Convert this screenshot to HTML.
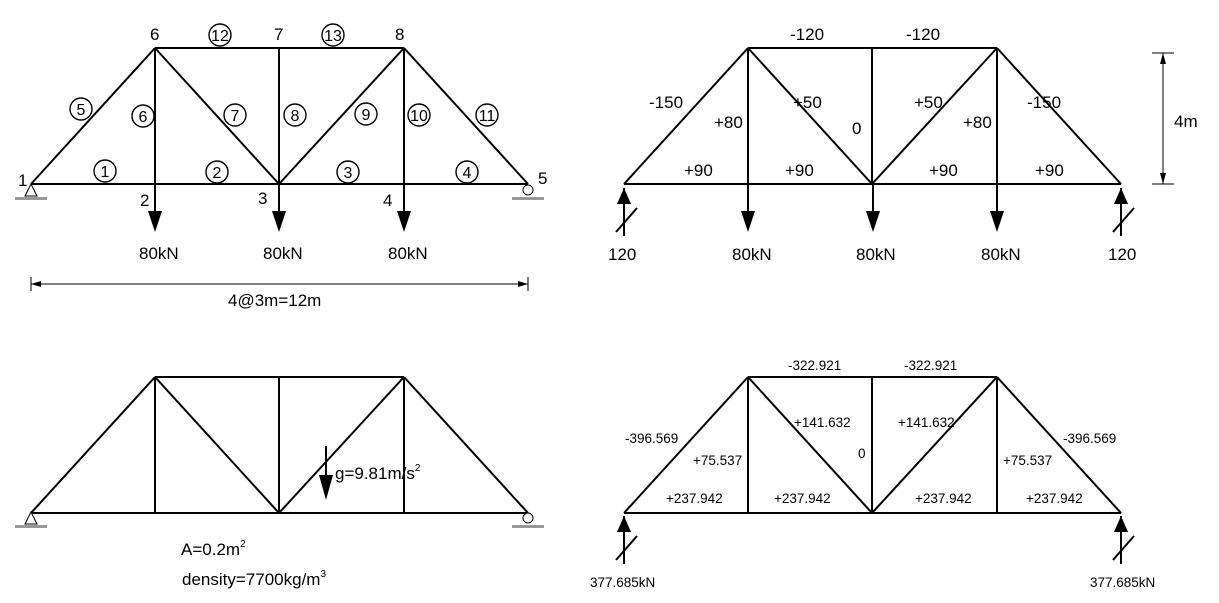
<!DOCTYPE html>
<html><head><meta charset="utf-8"><style>
html,body{margin:0;padding:0;background:#fff;width:1219px;height:603px;overflow:hidden}
svg{display:block}
text{font-family:"Liberation Sans",Arial,sans-serif;fill:#000}
</style></head><body>
<svg width="1219" height="603" viewBox="0 0 1219 603" xmlns="http://www.w3.org/2000/svg">
<defs>
<g id="truss" stroke="#000" stroke-width="2" fill="none">
<line x1="0" y1="136" x2="497" y2="136"/>
<line x1="124" y1="0" x2="373" y2="0"/>
<line x1="0" y1="136" x2="124" y2="0"/>
<line x1="124" y1="0" x2="248" y2="136"/>
<line x1="248" y1="136" x2="373" y2="0"/>
<line x1="373" y1="0" x2="497" y2="136"/>
<line x1="124" y1="0" x2="124" y2="136"/>
<line x1="248" y1="0" x2="248" y2="136"/>
<line x1="373" y1="0" x2="373" y2="136"/>
</g>
<g id="down"><line x1="0" y1="0" x2="0" y2="30" stroke="#000" stroke-width="2"/><polygon points="-7,27 7,27 0,48" fill="#000"/></g>
<g id="up"><line x1="0" y1="4" x2="0" y2="52" stroke="#000" stroke-width="2"/><polygon points="-7,20 7,20 0,4" fill="#000"/><line x1="-8" y1="48" x2="13" y2="24" stroke="#000" stroke-width="2"/></g>
<g id="pin"><polygon points="0,0 -6,12 6,12" fill="#fff" stroke="#000" stroke-width="1"/><rect x="-16" y="13" width="32" height="3" fill="#999"/></g>
<g id="roller"><circle cx="0" cy="6" r="5" fill="#fff" stroke="#000" stroke-width="1"/><rect x="-16" y="13" width="32" height="3" fill="#999"/></g>
</defs>

<!-- Top-left -->
<use href="#truss" x="31" y="48"/>
<use href="#pin" x="31" y="184"/>
<use href="#roller" x="528" y="184"/>
<use href="#down" x="155" y="184"/>
<use href="#down" x="279" y="184"/>
<use href="#down" x="404" y="184"/>
<g font-size="17">
<text x="18" y="186">1</text><text x="140" y="206">2</text><text x="258" y="204">3</text><text x="383" y="206">4</text><text x="538" y="184">5</text>
<text x="150" y="40">6</text><text x="274" y="40">7</text><text x="395" y="40">8</text>
<text x="139" y="259">80kN</text><text x="263" y="259">80kN</text><text x="388" y="259">80kN</text>
<text x="228" y="306">4@3m=12m</text>
</g>
<g stroke="#000" stroke-width="1.4" fill="none">
<circle cx="105" cy="171" r="11"/><circle cx="217" cy="172" r="11"/><circle cx="348" cy="172" r="11"/><circle cx="467" cy="172" r="11"/>
<circle cx="81" cy="109" r="11"/><circle cx="143" cy="116" r="11"/><circle cx="235" cy="115" r="11"/><circle cx="295" cy="115" r="11"/>
<circle cx="366" cy="114" r="11"/><circle cx="419" cy="115" r="11"/><circle cx="487" cy="115" r="11"/>
<circle cx="220" cy="35" r="11"/><circle cx="333" cy="35" r="11"/>
</g>
<g font-size="16" text-anchor="middle">
<text x="105" y="177">1</text><text x="217" y="178">2</text><text x="348" y="178">3</text><text x="467" y="178">4</text>
<text x="81" y="115">5</text><text x="143" y="122">6</text><text x="235" y="121">7</text><text x="295" y="121">8</text>
<text x="366" y="120">9</text><text x="419" y="121">10</text><text x="487" y="121">11</text>
<text x="220" y="41">12</text><text x="333" y="41">13</text>
</g>
<line x1="31" y1="284" x2="528" y2="284" stroke="#000" stroke-width="1"/>
<line x1="31" y1="277" x2="31" y2="291" stroke="#000" stroke-width="1"/>
<line x1="528" y1="277" x2="528" y2="291" stroke="#000" stroke-width="1"/>
<polygon points="31,284 41,281 41,287" fill="#000"/><polygon points="528,284 518,281 518,287" fill="#000"/>

<!-- Top-right -->
<use href="#truss" x="624" y="48"/>
<use href="#up" x="624" y="184"/>
<use href="#up" x="1121" y="184"/>
<use href="#down" x="748" y="184"/>
<use href="#down" x="873" y="184"/>
<use href="#down" x="997" y="184"/>
<g font-size="17">
<text x="790" y="40">-120</text><text x="906" y="40">-120</text>
<text x="649" y="108">-150</text><text x="1027" y="108">-150</text>
<text x="714" y="128">+80</text><text x="963" y="128">+80</text>
<text x="793" y="108">+50</text><text x="914" y="108">+50</text>
<text x="852" y="134">0</text>
<text x="684" y="176">+90</text><text x="785" y="176">+90</text><text x="929" y="176">+90</text><text x="1035" y="176">+90</text>
<text x="608" y="260">120</text><text x="1108" y="260">120</text>
<text x="732" y="260">80kN</text><text x="856" y="260">80kN</text><text x="981" y="260">80kN</text>
<text x="1174" y="127">4m</text>
</g>
<line x1="1163" y1="53" x2="1163" y2="184" stroke="#000" stroke-width="1"/>
<line x1="1152" y1="53" x2="1174" y2="53" stroke="#000" stroke-width="1"/>
<line x1="1152" y1="184" x2="1174" y2="184" stroke="#000" stroke-width="1"/>
<polygon points="1163,53 1160,64 1166,64" fill="#000"/><polygon points="1163,184 1160,173 1166,173" fill="#000"/>

<!-- Bottom-left -->
<use href="#truss" x="31" y="377"/>
<use href="#pin" x="31" y="512"/>
<use href="#roller" x="528" y="512"/>
<line x1="326" y1="446" x2="326" y2="480" stroke="#000" stroke-width="2"/>
<polygon points="319,475 333,475 326,500" fill="#000"/>
<g font-size="17">
<text x="335" y="479">g=9.81m/s<tspan font-size="10" dy="-8">2</tspan></text>
<text x="181" y="555">A=0.2m<tspan font-size="10" dy="-8">2</tspan></text>
<text x="182" y="585">density=7700kg/m<tspan font-size="10" dy="-8">3</tspan></text>
</g>

<!-- Bottom-right -->
<use href="#truss" x="624" y="377"/>
<use href="#up" x="624" y="512"/>
<use href="#up" x="1121" y="512"/>
<g font-size="13.5">
<text x="788" y="370">-322.921</text><text x="904" y="370">-322.921</text>
<text x="625" y="443">-396.569</text><text x="1063" y="443">-396.569</text>
<text x="693" y="465">+75.537</text><text x="1003" y="465">+75.537</text>
<text x="794" y="427">+141.632</text><text x="898" y="427">+141.632</text>
<text x="858" y="458">0</text>
<text x="666" y="503">+237.942</text><text x="774" y="503">+237.942</text><text x="915" y="503">+237.942</text><text x="1026" y="503">+237.942</text>
<text x="590" y="587">377.685kN</text><text x="1090" y="587">377.685kN</text>
</g>
</svg>
</body></html>
